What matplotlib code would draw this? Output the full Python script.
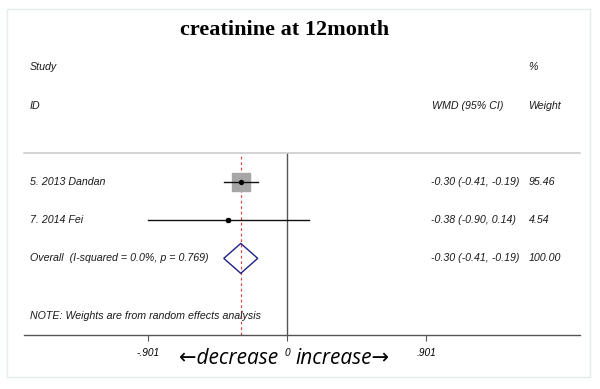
import numpy as np
import matplotlib
matplotlib.use("Agg")
from matplotlib import pyplot as plt
from matplotlib.patches import Polygon, Rectangle
from matplotlib.transforms import blended_transform_factory

# study level data
studies = ["5. 2013 Dandan", "7. 2014 Fei"]
wmd = [-0.30, -0.38]
ci_low = [-0.41, -0.90]
ci_high = [-0.19, 0.14]
weights = [95.46, 4.54]

# pooled estimate
overall_label = "Overall  (I-squared = 0.0%, p = 0.769)"
overall_wmd = -0.30
overall_low = -0.41
overall_high = -0.19
overall_weight = 100.00

tick_vals = [-0.901, 0, 0.901]
tick_labels = ["-.901", "0", ".901"]

W, H = 600, 389
fig = plt.figure(figsize=(6, 3.89), dpi=100)

def fx(px):
    return px / W

def fy(py):
    return 1 - py / H

# faint frame around the graph
fig.patches.append(Rectangle((fx(7), fy(377)), fx(590) - fx(7), fy(9) - fy(377),
                             transform=fig.transFigure, fill=False,
                             edgecolor="#e2eded", linewidth=1))

ax = fig.add_axes([fx(24), fy(335), fx(580) - fx(24), fy(153) - fy(335)])
ax.set_xlim(-1.705, 1.899)
ax.set_ylim(5, 0.25)

txt = dict(family="Liberation Sans", style="italic", fontsize=7.7, color="#1a1a1a")

# header --------------------------------------------------------------
fig.text(fx(285), fy(30), "creatinine at 12month", family="Liberation Serif",
         fontweight="bold", fontsize=16, ha="center", va="center")
fig.text(fx(30), fy(67), "Study", va="center", **txt)
fig.text(fx(30), fy(106), "ID", va="center", **txt)
fig.text(fx(528), fy(67), "%", va="center", **txt)
fig.text(fx(503), fy(106), "WMD (95% CI)", ha="right", va="center", **txt)
fig.text(fx(528), fy(106), "Weight", va="center", **txt)

# rows ----------------------------------------------------------------
trans = blended_transform_factory(fig.transFigure, ax.transData)
rows = np.arange(1, len(studies) + 1)
max_w = max(weights)
for y, name, m, lo, hi, w in zip(rows, studies, wmd, ci_low, ci_high, weights):
    ax.plot([m], [y], marker="s", markersize=13 * np.sqrt(w / max_w),
            color="#a6a6a6", linestyle="none", zorder=2)
    ax.plot([lo, hi], [y, y], color="#111111", linewidth=1, zorder=3)
    ax.plot([m], [y], marker="o", markersize=2.8, color="black", zorder=4)
    ax.text(fx(30), y, name, transform=trans, va="center", **txt)
    ax.text(fx(431), y, f"{m:.2f} ({lo:.2f}, {hi:.2f})", transform=trans,
            va="center", **txt)
    ax.text(fx(529), y, f"{w:.2f}", transform=trans, va="center", **txt)

y_ov = len(studies) + 1
dh = 0.39
diamond = Polygon([(overall_low, y_ov), (overall_wmd, y_ov - dh),
                   (overall_high, y_ov), (overall_wmd, y_ov + dh)],
                  closed=True, fill=False, edgecolor="#1f1f85", linewidth=1, zorder=4)
ax.add_patch(diamond)
ax.text(fx(30), y_ov, overall_label, transform=trans, va="center", **txt)
ax.text(fx(431), y_ov, f"{overall_wmd:.2f} ({overall_low:.2f}, {overall_high:.2f})",
        transform=trans, va="center", **txt)
ax.text(fx(529), y_ov, f"{overall_weight:.2f}", transform=trans, va="center", **txt)

ax.text(fx(30), 4.5, "NOTE: Weights are from random effects analysis",
        transform=trans, va="center", **txt)

# reference lines
ax.axvline(0, color="#555555", linewidth=1, zorder=1)
ax.axvline(overall_wmd, color="#d44a4a", linewidth=0.9, linestyle=(0, (2.2, 2.2)), zorder=1)

# axes styling
for s in ("left", "right"):
    ax.spines[s].set_visible(False)
ax.spines["top"].set_color("#cccccc")
ax.spines["top"].set_linewidth(1.2)
ax.spines["bottom"].set_color("#555555")
ax.spines["bottom"].set_linewidth(1)
ax.set_yticks([])
ax.set_xticks(tick_vals)
ax.set_xticklabels(tick_labels, family="Liberation Sans", style="italic", fontsize=7.3)
ax.tick_params(axis="x", length=4, width=0.8, color="#555555", pad=5)

# direction labels
fig.text(fx(278), fy(358), "\u2190decrease", family=["Open Sans", "DejaVu Sans"],
         style="italic", fontsize=15, ha="right", va="center")
fig.text(fx(295), fy(358), "increase\u2192", family=["Open Sans", "DejaVu Sans"],
         style="italic", fontsize=15, ha="left", va="center")

plt.savefig("out.png", dpi=100)
